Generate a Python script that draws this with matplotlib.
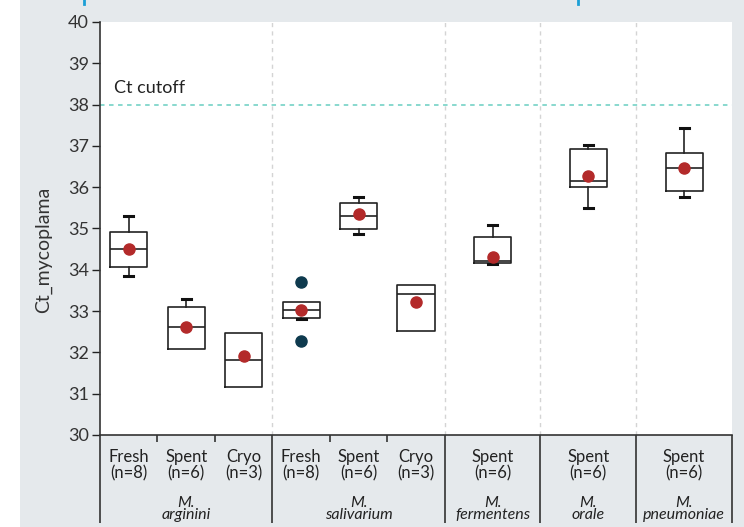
import numpy as np
import matplotlib
matplotlib.use("Agg")
import matplotlib.pyplot as plt
from matplotlib.patches import Rectangle
from matplotlib.lines import Line2D

plt.rcParams["font.family"] = ["Lato", "DejaVu Sans"]

# --- data ------------------------------------------------------------------
categories = ["Fresh", "Spent", "Cryo", "Fresh", "Spent", "Cryo", "Spent", "Spent", "Spent"]
n_counts = [8, 6, 3, 8, 6, 3, 6, 6, 6]
species = ["arginini", "salivarium", "fermentens", "orale", "pneumoniae"]
group_sizes = [3, 3, 1, 1, 1]

whisker_low = [33.85, 32.08, 31.17, 32.82, 34.86, 32.53, 34.13, 35.50, 35.77]
q1 = [34.07, 32.08, 31.17, 32.84, 34.99, 32.53, 34.16, 36.00, 35.92]
median = [34.50, 32.61, 31.82, 33.03, 35.31, 33.41, 34.21, 36.16, 36.47]
q3 = [34.92, 33.11, 32.48, 33.23, 35.62, 33.63, 34.79, 36.93, 36.83]
whisker_high = [35.31, 33.30, 32.48, 33.23, 35.77, 33.63, 35.08, 37.03, 37.44]
means = [34.50, 32.61, 31.91, 33.03, 35.36, 33.23, 34.30, 36.28, 36.47]
outliers = [[], [], [], [33.71, 32.28], [], [], [], [], []]
ct_cutoff = 38.0

# --- layout -----------------------------------------------------------------
# single-category groups get a wider slot, as in the source chart
slot_w = []
for g in group_sizes:
    slot_w += [1.0] * g if g > 1 else [5 / 3]
edges = np.concatenate([[0], np.cumsum(slot_w)])
centers = (edges[:-1] + edges[1:]) / 2
group_edges = [0]
i = 0
for g in group_sizes:
    i += g
    group_edges.append(edges[i])
inner_edges = [e for e in edges if e not in group_edges]

W, H = 744, 527
fig = plt.figure(figsize=(W / 100, H / 100), dpi=100, facecolor="white")
fig.patches.append(Rectangle((20 / W, 0), 1, 1, transform=fig.transFigure,
                             facecolor="#e5e9ec", edgecolor="none", zorder=-5))
for xp in (84, 578):
    fig.add_artist(Line2D([xp / W, xp / W], [1, 1 - 4 / H], lw=2, color="#1c9fd6"))

ax = fig.add_axes([100 / W, (H - 435) / H, 632 / W, 413 / H])
ax.set_facecolor("white")

stats = []
for k in range(len(categories)):
    stats.append(dict(med=median[k], q1=q1[k], q3=q3[k], whislo=whisker_low[k],
                      whishi=whisker_high[k], mean=means[k], fliers=outliers[k]))

line_kw = dict(color="#222222", linewidth=1.2)
parts = ax.bxp(stats, positions=centers, widths=37 / 57.45, capwidths=9 / 57.45,
               showmeans=True, patch_artist=False,
               boxprops=line_kw, medianprops=line_kw, whiskerprops=line_kw,
               capprops=dict(color="#111111", linewidth=2.2),
               meanprops=dict(marker="o", markersize=8, markerfacecolor="#b32a2a",
                              markeredgecolor="#b32a2a"),
               flierprops=dict(marker="o", markersize=8, markerfacecolor="#0e3a4e",
                               markeredgecolor="#0e3a4e"),
               zorder=3)
# hide caps that sit on the box edge (no whisker there)
for k in range(len(categories)):
    if whisker_low[k] == q1[k]:
        parts["caps"][2 * k].set_visible(False)
    if whisker_high[k] == q3[k]:
        parts["caps"][2 * k + 1].set_visible(False)

# dashed separators between species
for e in group_edges[1:-1]:
    ax.axvline(e, color="#d4d4d4", lw=1, dashes=(3, 3), zorder=1)

# cutoff line
ax.axhline(ct_cutoff, color="#7fd5ca", lw=1.3, dashes=(2.5, 2.5), zorder=2)
ax.text(0.25, ct_cutoff + 0.2, "Ct cutoff", fontsize=13, color="#222222",
        ha="left", va="bottom")

ax.set_xlim(edges[0], edges[-1])
ax.set_ylim(30, 40)
ax.set_yticks(range(30, 41))
ax.tick_params(axis="y", labelsize=13, length=6, width=1, colors="#222222",
               labelcolor="#333333", pad=2)
ax.set_ylabel("Ct_mycoplama", fontsize=14, color="#333333")
ax.yaxis.set_label_coords(-0.076, 0.448)

# x axis: long ticks at species boundaries, short ones inside groups
ax.set_xticks(group_edges)
ax.set_xticks(inner_edges, minor=True)
ax.tick_params(axis="x", which="major", length=63, width=1.2, colors="#333333",
               labelbottom=False)
ax.tick_params(axis="x", which="minor", length=5, width=1.2, colors="#333333",
               labelbottom=False)

for s in ("top", "right"):
    ax.spines[s].set_visible(False)
for s in ("left", "bottom"):
    ax.spines[s].set_color("#333333")
    ax.spines[s].set_linewidth(1.2)

trans = ax.get_xaxis_transform()
for c, cat, n in zip(centers, categories, n_counts):
    ax.text(c, -0.033, f"{cat}\n(n={n})", transform=trans, ha="center", va="top",
            fontsize=12, color="#222222", linespacing=1.05, clip_on=False)
for k, sp in enumerate(species):
    gc = (group_edges[k] + group_edges[k + 1]) / 2
    ax.text(gc, -0.148, f"M.\n{sp}", transform=trans, ha="center", va="top",
            fontsize=11.5, style="italic", color="#222222", linespacing=0.8,
            clip_on=False)

fig.savefig("out.png", dpi=100, facecolor=fig.get_facecolor())
